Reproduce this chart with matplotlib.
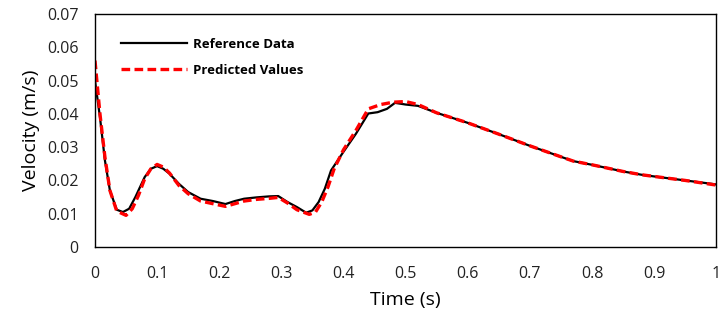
import matplotlib.pyplot as plt

plt.rcParams['font.family'] = ['Open Sans', 'DejaVu Sans']

# Reference data (black)
t_ref = [0, 0.008, 0.016, 0.024, 0.035, 0.045, 0.055, 0.065, 0.08, 0.09, 0.1,
         0.11, 0.12, 0.135, 0.15, 0.17, 0.19, 0.21, 0.225, 0.24, 0.26, 0.28,
         0.295, 0.31, 0.325, 0.34, 0.35, 0.36, 0.37, 0.38, 0.4, 0.42, 0.44,
         0.455, 0.47, 0.483, 0.5, 0.52, 0.55, 0.6, 0.65, 0.7, 0.75, 0.77, 0.8,
         0.85, 0.88, 0.9, 0.95, 1.0]
v_ref = [0.050, 0.039, 0.026, 0.017, 0.0112, 0.0105, 0.0115, 0.015, 0.021,
         0.0235, 0.0243, 0.0235, 0.022, 0.019, 0.0165, 0.0145, 0.0138, 0.0129,
         0.0138, 0.0145, 0.0149, 0.0152, 0.0153, 0.0135, 0.012, 0.0103, 0.011,
         0.0135, 0.0175, 0.023, 0.0286, 0.034, 0.0401, 0.0405, 0.0415, 0.0433,
         0.0428, 0.0424, 0.0403, 0.0373, 0.0339, 0.0304, 0.0271, 0.0258,
         0.0247, 0.0227, 0.0217, 0.0212, 0.0200, 0.0188]

# Predicted values (red dashed)
t_pred = [0, 0.008, 0.016, 0.024, 0.035, 0.05, 0.06, 0.07, 0.08, 0.09, 0.1,
          0.11, 0.12, 0.135, 0.15, 0.17, 0.19, 0.21, 0.225, 0.24, 0.26, 0.28,
          0.295, 0.31, 0.325, 0.345, 0.355, 0.365, 0.375, 0.385, 0.4, 0.42,
          0.44, 0.46, 0.48, 0.5, 0.52, 0.55, 0.6, 0.65, 0.7, 0.75, 0.77, 0.8,
          0.85, 0.88, 0.9, 0.95, 1.0]
v_pred = [0.056, 0.040, 0.027, 0.017, 0.0108, 0.0095, 0.0115, 0.0155, 0.0205,
          0.0235, 0.0248, 0.024, 0.0222, 0.0185, 0.016, 0.0138, 0.013, 0.0122,
          0.013, 0.0138, 0.0143, 0.0146, 0.0149, 0.0132, 0.0112, 0.0098,
          0.0105, 0.0135, 0.018, 0.0235, 0.0292, 0.035, 0.0415, 0.0428,
          0.0435, 0.0437, 0.0428, 0.0403, 0.0373, 0.0339, 0.0304, 0.0271,
          0.0258, 0.0247, 0.0227, 0.0217, 0.0212, 0.0200, 0.0186]

x_ticks = [0, 0.1, 0.2, 0.3, 0.4, 0.5, 0.6, 0.7, 0.8, 0.9, 1]
x_labels = ['0', '0.1', '0.2', '0.3', '0.4', '0.5', '0.6', '0.7', '0.8', '0.9', '1']
y_ticks = [0, 0.01, 0.02, 0.03, 0.04, 0.05, 0.06, 0.07]
y_labels = ['0', '0.01', '0.02', '0.03', '0.04', '0.05', '0.06', '0.07']

fig = plt.figure(figsize=(7.24, 3.25), dpi=100)
ax = fig.add_axes([0.1312, 0.24, 0.858, 0.717])

ax.plot(t_ref, v_ref, color='black', lw=1.6, label='Reference Data')
ax.plot(t_pred, v_pred, color='red', lw=2.4, dashes=(2.6, 1.3),
        label='Predicted Values')

ax.set_xlim(0, 1)
ax.set_ylim(0, 0.07)
ax.set_xticks(x_ticks)
ax.set_xticklabels(x_labels)
ax.set_yticks(y_ticks)
ax.set_yticklabels(y_labels)
ax.tick_params(length=0, labelsize=11.5, colors='#222222')
ax.tick_params(axis='x', pad=14)
ax.tick_params(axis='y', pad=12)
for s in ax.spines.values():
    s.set_linewidth(1.0)

ax.set_xlabel('Time (s)', fontsize=14, labelpad=6)
ax.set_ylabel('Velocity (m/s)', fontsize=14, labelpad=5)

leg = ax.legend(loc='upper left', frameon=False,
                prop={'weight': 'bold', 'size': 9.5},
                handlelength=5.0, handletextpad=0.5, labelspacing=1.0,
                bbox_to_anchor=(0.022, 0.95))

fig.savefig('out.png', dpi=100)
